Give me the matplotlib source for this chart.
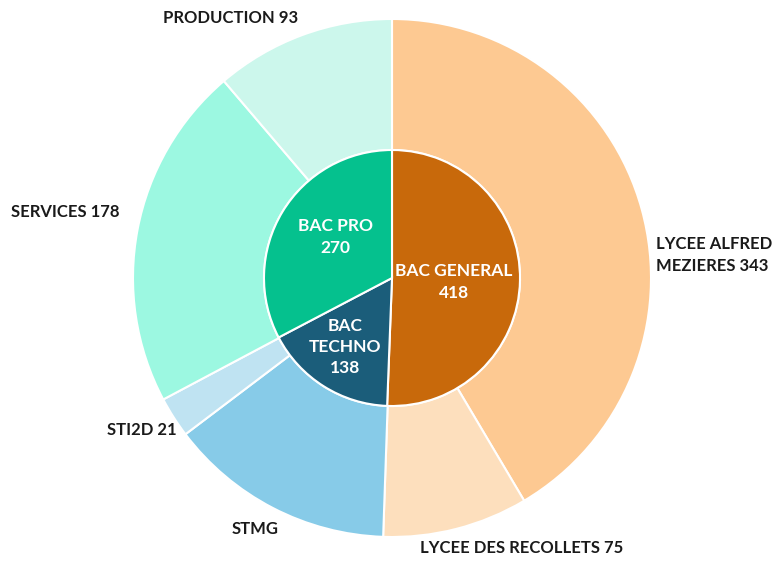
import matplotlib
matplotlib.use("Agg")
import matplotlib.pyplot as plt

inner_labels = ["BAC GENERAL", "BAC TECHNO", "BAC PRO"]
inner_values = [418, 138, 270]
inner_colors = ["#C8690B", "#1B5D7A", "#05C18E"]

outer_labels = ["LYCEE ALFRED MEZIERES", "LYCEE DES RECOLLETS", "STMG", "STI2D", "SERVICES", "PRODUCTION"]
outer_values = [343, 75, 117, 21, 178, 93]
outer_shown = ["343", "75", "", "21", "178", "93"]
outer_colors = ["#FDC992", "#FDDFBD", "#87CBE8", "#BFE3F2", "#9CF8E1", "#CCF7EC"]

W, H = 776, 561
fig = plt.figure(figsize=(W / 100, H / 100), dpi=100)
ax = fig.add_axes([0, 0, 1, 1])
ax.set_xlim(0, W)
ax.set_ylim(0, H)
ax.set_aspect("equal")
ax.axis("off")

cx, cy = 392, H - 278
R_out, R_in = 259, 128

ax.pie(outer_values, radius=R_out, center=(cx, cy), colors=outer_colors,
       startangle=90, counterclock=False,
       wedgeprops=dict(width=R_out - R_in, edgecolor="white", linewidth=1.5))
ax.pie(inner_values, radius=R_in, center=(cx, cy), colors=inner_colors,
       startangle=90, counterclock=False,
       wedgeprops=dict(edgecolor="white", linewidth=1.5))
ax.set_xlim(0, W)
ax.set_ylim(0, H)

fam = ["Lato", "DejaVu Sans"]

# inner labels
inner_text = ["BAC GENERAL\n" + str(inner_values[0]),
              "BAC\nTECHNO\n" + str(inner_values[1]),
              "BAC PRO\n" + str(inner_values[2])]
inner_pos = [(454, 282), (345, 347), (335, 237)]
for t, (x, y) in zip(inner_text, inner_pos):
    ax.text(x, H - y, t, color="white", ha="center", va="center",
            linespacing=1.4, family=fam, fontweight="bold", fontsize=12.5)

# outer labels
outer_text = [f"{l} {v}".strip() if v else l for l, v in zip(outer_labels, outer_shown)]
outer_text[0] = "LYCEE ALFRED\nMEZIERES " + outer_shown[0]
outer_pos = [(656, 255, "left"), (522, 548, "center"), (255, 529, "center"),
             (142, 430, "center"), (65, 212, "center"), (231, 18, "center")]
for t, (x, y, ha) in zip(outer_text, outer_pos):
    ax.text(x, H - y, t, color="#1a1a1a", ha=ha, va="center",
            linespacing=1.4, family=fam, fontweight="bold", fontsize=12)

fig.savefig("out.png", dpi=100, facecolor="white")
